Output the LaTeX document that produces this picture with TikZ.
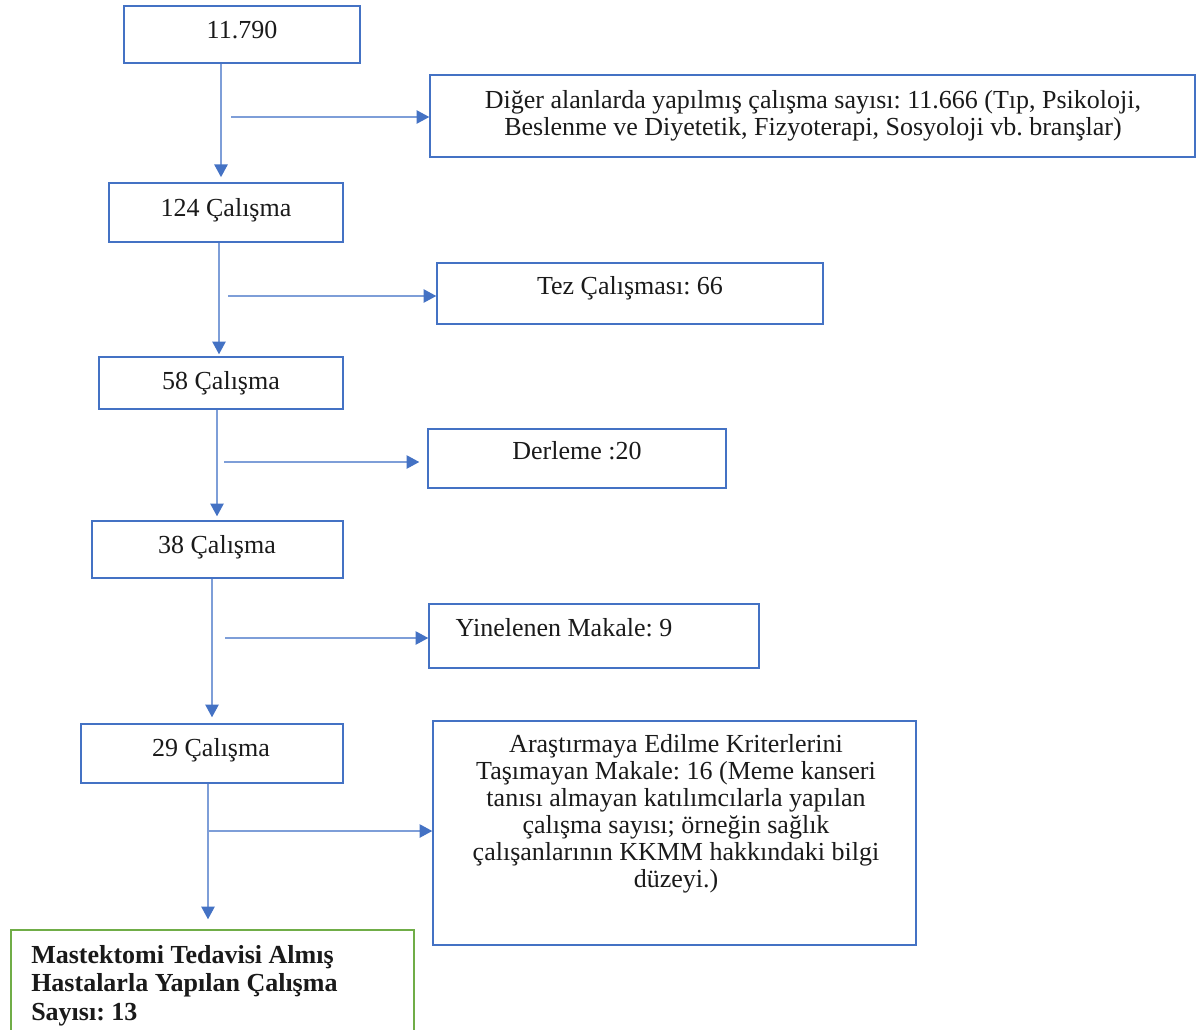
\documentclass[tikz,border=0pt]{standalone}
\usepackage{fontspec}
\setmainfont{Liberation Serif}
\usetikzlibrary{arrows.meta}
\definecolor{boxc}{HTML}{4472C4}
\definecolor{linec}{HTML}{7E9ED8}
\definecolor{greenc}{HTML}{70AD47}
\definecolor{txtc}{HTML}{1A1A1A}
\frenchspacing
\begin{document}
\frenchspacing
\begin{tikzpicture}[x=0.75pt,y=-0.75pt,
  box/.style={draw=boxc, line width=1.1pt, inner sep=0pt},
  lbl/.style={inner sep=0pt, text=txtc, font=\frenchspacing\fontsize{19.5}{20.25}\selectfont, align=center},
  one/.style={lbl, text height=13pt, text depth=0pt},
  conn/.style={draw=linec, line width=1.1pt, -{Triangle[length=9.5pt,width=10pt,color=boxc]}}
]
\clip (0,0) rectangle (1196,1029);
\fill[white] (0,0) rectangle (1196,1029);

% boxes
\node[box, minimum width=177pt, minimum height=42.75pt] (A) at (242,34.5) {};
\node[box, minimum width=573.75pt, minimum height=61.5pt] (D) at (812.5,116) {};
\node[box, line width=1.8pt, minimum width=175.5pt, minimum height=44.25pt] (B) at (226,212.5) {};
\node[box, minimum width=289.5pt, minimum height=45.75pt] (T) at (630,293.5) {};
\node[box, minimum width=183pt, minimum height=39pt] (C) at (221,383) {};
\node[box, minimum width=223.5pt, minimum height=44.25pt] (R) at (577,458.5) {};
\node[box, minimum width=188.25pt, minimum height=42.75pt] (E) at (217.5,549.5) {};
\node[box, minimum width=247.5pt, minimum height=48pt] (Y) at (594,636) {};
\node[box, minimum width=196.5pt, minimum height=44.25pt] (F) at (212,753.5) {};
\node[box, minimum width=362.25pt, minimum height=168pt] (K) at (674.5,833) {};
\node[box, draw=greenc, minimum width=302.25pt, minimum height=82.5pt] (G) at (212.5,985) {};

% texts
\node[one] (tA) at (242,30) {11.790};
\node[lbl] (tD) at (813,115.5) {Diğer alanlarda yapılmış çalışma sayısı: 11.666 (Tıp, Psikoloji,\\Beslenme ve Diyetetik, Fizyoterapi, Sosyoloji vb. branşlar)};
\node[one] (tB) at (226,208) {124 Çalışma};
\node[one] (tT) at (630,286) {Tez Çalışması: 66};
\node[one] (tC) at (221,381) {58 Çalışma};
\node[one] (tR) at (577,451) {Derleme :20};
\node[one] (tE) at (217,545) {38 Çalışma};
\node[one] (tY) at (564,628) {Yinelenen Makale: 9};
\node[one] (tF) at (211,748) {29 Çalışma};
\node[lbl] (tK) at (676,814) {Araştırmaya Edilme Kriterlerini\\Taşımayan Makale: 16 (Meme kanseri\\tanısı almayan katılımcılarla yapılan\\çalışma sayısı; örneğin sağlık\\çalışanlarının KKMM hakkındaki bilgi\\düzeyi.)};
\node[lbl, anchor=west, align=left, font=\frenchspacing\fontsize{19.5}{21.4}\selectfont\bfseries] (tG) at (31,985.5) {Mastektomi Tedavisi Almış\\Hastalarla Yapılan Çalışma\\Sayısı: 13};

% connector coordinates
\coordinate (v1) at (221,0);
\coordinate (v2) at (219,0);
\coordinate (v3) at (217,0);
\coordinate (v4) at (212,0);
\coordinate (v5) at (208,0);
\coordinate (h1) at (231,117);
\coordinate (h2) at (228,296);
\coordinate (h3) at (224,462);
\coordinate (h4) at (225,638);
\coordinate (h5) at (208,831);

% vertical flow
\draw[conn, shorten >=3.5pt] (A.south -| v1) -- (B.north -| v1);
\draw[conn, shorten >=1.5pt] (B.south -| v2) -- (C.north -| v2);
\draw[conn, shorten >=3pt] (C.south -| v3) -- (E.north -| v3);
\draw[conn, shorten >=4.5pt] (E.south -| v4) -- (F.north -| v4);
\draw[conn, shorten >=7.5pt] (F.south -| v5) -- (G.north -| v5);

% branches
\draw[conn] (h1) -- (D.west |- h1);
\draw[conn] (h2) -- (T.west |- h2);
\draw[conn, shorten >=6pt] (h3) -- (R.west |- h3);
\draw[conn] (h4) -- (Y.west |- h4);
\draw[conn] (h5) -- (K.west |- h5);
\end{tikzpicture}
\end{document}
